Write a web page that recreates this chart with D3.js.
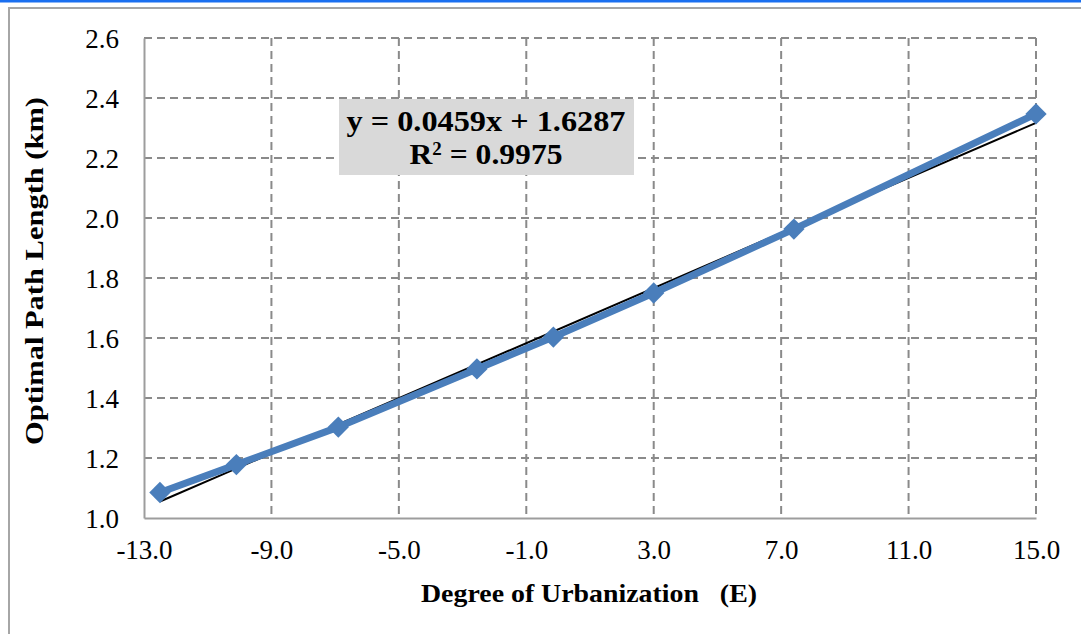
<!DOCTYPE html>
<html>
<head>
<meta charset="utf-8">
<script src="https://cdn.jsdelivr.net/npm/d3@7"></script>
<style>
  html, body { margin: 0; padding: 0; background: #ffffff; }
  svg { display: block; font-family: "Liberation Serif", "DejaVu Serif", serif; }
</style>
</head>
<body>
<svg width="1081" height="634"></svg>
<script>
(function () {
    "use strict";

    // Series data
    var urbanization = [-12.5, -10.1, -6.9, -2.55, -0.15, 3.0, 7.4, 15.0];
    var pathLength = [1.085, 1.178, 1.303, 1.497, 1.603, 1.75, 1.963, 2.347];

    // Linear trend shown in the label
    var trendSlope = 0.0459;
    var trendIntercept = 1.6287;
    var trendLabel = ["y = 0.0459x + 1.6287", "0.9975"];

    // Axis ticks
    var xTicks = [-13, -9, -5, -1, 3, 7, 11, 15];
    var yTicks = [1.0, 1.2, 1.4, 1.6, 1.8, 2.0, 2.2, 2.4, 2.6];

    var svg = d3.select("svg");
    var margin = { top: 38, right: 45, bottom: 116, left: 144 };
    var width = 1081 - margin.left - margin.right;
    var height = 634 - margin.top - margin.bottom;

    // plain hyphen for negatives, one decimal
    var fmt = function (d) { return d.toFixed(1); };

    // Outer frame
    svg.append("rect")
        .attr("x", 9).attr("y", 8)
        .attr("width", 1100).attr("height", 700)
        .attr("fill", "none")
        .attr("stroke", "#a6a6a6")
        .attr("stroke-width", 2);
    svg.append("rect")
        .attr("x", 0).attr("y", 0)
        .attr("width", 1081).attr("height", 2.5)
        .attr("fill", "#1a6ff0");

    var g = svg.append("g").attr("transform", "translate(" + margin.left + "," + margin.top + ")");

    var x = d3.scaleLinear().domain([-13, 15]).range([0, width]);
    var y = d3.scaleLinear().domain([1.0, 2.6]).range([height, 0]);

    // Dashed grid
    g.append("g")
        .selectAll("line")
        .data(yTicks.slice(1))
        .enter().append("line")
        .attr("x1", 0).attr("x2", width)
        .attr("y1", function (d) { return y(d); })
        .attr("y2", function (d) { return y(d); })
        .attr("stroke", "#8a8a8a")
        .attr("stroke-width", 2)
        .attr("stroke-dasharray", "8,5");

    g.append("g")
        .selectAll("line")
        .data(xTicks.slice(1))
        .enter().append("line")
        .attr("x1", function (d) { return x(d); })
        .attr("x2", function (d) { return x(d); })
        .attr("y1", 0).attr("y2", height)
        .attr("stroke", "#8a8a8a")
        .attr("stroke-width", 2)
        .attr("stroke-dasharray", "8,5");

    // Axes
    var xAxis = g.append("g")
        .attr("transform", "translate(0," + height + ")")
        .call(d3.axisBottom(x).tickValues(xTicks).tickSize(0).tickPadding(22).tickFormat(fmt));
    var yAxis = g.append("g")
        .call(d3.axisLeft(y).tickValues(yTicks).tickSize(0).tickPadding(25).tickFormat(fmt));

    [xAxis, yAxis].forEach(function (ax) {
        ax.select(".domain").attr("stroke", "#9d9d9d").attr("stroke-width", 2);
        ax.selectAll("text")
            .attr("font-family", "Liberation Serif, serif")
            .attr("font-size", 27)
            .attr("fill", "#000000");
    });
    xAxis.selectAll("text").attr("dy", "0.71em");
    yAxis.selectAll("text").attr("dy", "0.34em");

    // Trend line
    var xExt = d3.extent(urbanization);
    g.append("line")
        .attr("x1", x(xExt[0]))
        .attr("y1", y(trendSlope * xExt[0] + trendIntercept))
        .attr("x2", x(xExt[1]))
        .attr("y2", y(trendSlope * xExt[1] + trendIntercept))
        .attr("stroke", "#000000")
        .attr("stroke-width", 2);

    // Data series
    var points = urbanization.map(function (v, i) { return { x: v, y: pathLength[i] }; });
    var line = d3.line()
        .x(function (d) { return x(d.x); })
        .y(function (d) { return y(d.y); });

    g.append("path")
        .datum(points)
        .attr("fill", "none")
        .attr("stroke", "#4a7ebb")
        .attr("stroke-width", 7)
        .attr("stroke-linejoin", "round")
        .attr("d", line);

    g.selectAll(".marker")
        .data(points)
        .enter().append("path")
        .attr("class", "marker")
        .attr("transform", function (d) { return "translate(" + x(d.x) + "," + y(d.y) + ")"; })
        .attr("d", d3.symbol().type(d3.symbolDiamond2).size(290))
        .attr("fill", "#4a7ebb");

    // Equation label
    svg.append("rect")
        .attr("x", 339).attr("y", 99)
        .attr("width", 295).attr("height", 76)
        .attr("fill", "#d9d9d9");
    svg.append("text")
        .attr("x", 486).attr("y", 131)
        .attr("text-anchor", "middle")
        .attr("font-size", 30)
        .attr("font-weight", "bold")
        .attr("textLength", 279)
        .attr("lengthAdjust", "spacingAndGlyphs")
        .text(trendLabel[0]);
    var r2 = svg.append("text")
        .attr("x", 486).attr("y", 164)
        .attr("text-anchor", "middle")
        .attr("font-size", 30)
        .attr("font-weight", "bold")
        .attr("textLength", 153)
        .attr("lengthAdjust", "spacingAndGlyphs");
    r2.append("tspan").text("R");
    r2.append("tspan").attr("font-size", 18).attr("dy", -9).text("2");
    r2.append("tspan").attr("dy", 9).text(" = " + trendLabel[1]);

    // Axis titles
    svg.append("text")
        .attr("x", 589).attr("y", 602)
        .attr("text-anchor", "middle")
        .attr("font-size", 26)
        .attr("font-weight", "bold")
        .attr("textLength", 336)
        .attr("lengthAdjust", "spacingAndGlyphs")
        .style("white-space", "pre")
        .text("Degree of Urbanization   (E)");

    svg.append("text")
        .attr("transform", "translate(34,271) rotate(-90)")
        .attr("text-anchor", "middle")
        .attr("dy", "0.35em")
        .attr("font-size", 26)
        .attr("font-weight", "bold")
        .attr("textLength", 348)
        .attr("lengthAdjust", "spacingAndGlyphs")
        .text("Optimal Path Length (km)");
})();
</script>
</body>
</html>
